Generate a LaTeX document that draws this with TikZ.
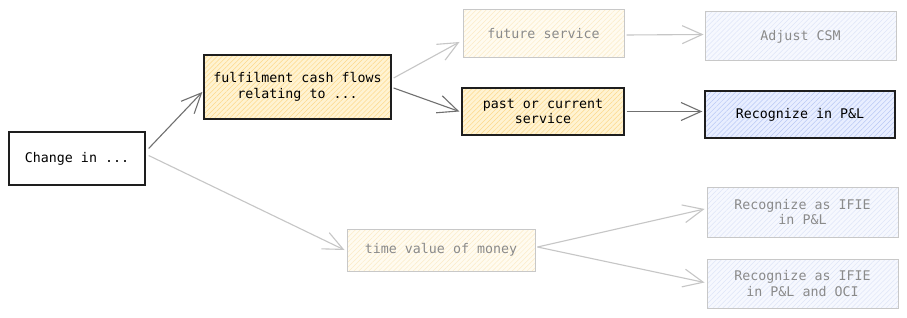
\documentclass[tikz,border=0pt]{standalone}
\usepackage{fontspec}
\newfontfamily\mono{DejaVu Sans Mono}
\usetikzlibrary{arrows.meta,patterns.meta}
\definecolor{ylwfill}{HTML}{FFF3D2}
\definecolor{ylwhatch}{HTML}{FDD98A}
\definecolor{ylwfillF}{HTML}{FFFBF0}
\definecolor{ylwhatchF}{HTML}{FCEBC6}
\definecolor{blufill}{HTML}{E8EEFF}
\definecolor{bluhatch}{HTML}{B9C9F5}
\definecolor{blufillF}{HTML}{F6F8FE}
\definecolor{bluhatchF}{HTML}{DEE5F8}
\definecolor{darkline}{HTML}{1E1E1E}
\definecolor{fadeline}{HTML}{C8C8C8}
\definecolor{fadetext}{HTML}{8A8A8A}
\definecolor{arrdark}{HTML}{707070}
\definecolor{arrlight}{HTML}{C6C6C6}
\tikzset{
  basebox/.style={draw, line width=1.3pt, align=center, inner sep=0pt,
    font=\mono\fontsize{13.3}{15.5}\selectfont},
  plainbox/.style={basebox, draw=darkline, fill=white},
  hatched/.style 2 args={preaction={draw=none, fill=#1},
    preaction={draw=none, pattern={Lines[angle=45,distance=3.5pt,line width=0.5pt]}, pattern color=#2}},
  ylwbox/.style={basebox, draw=darkline, hatched={ylwfill}{ylwhatch}},
  ylwboxF/.style={basebox, draw=fadeline, line width=1pt, text=fadetext, hatched={ylwfillF}{ylwhatchF}},
  blubox/.style={basebox, draw=darkline, hatched={blufill}{bluhatch}},
  bluboxF/.style={basebox, draw=fadeline, line width=1pt, text=fadetext, hatched={blufillF}{bluhatchF}},
  arrD/.style={draw=arrdark, line width=1.1pt, -{Straight Barb[length=20pt,width=18pt,line width=1.1pt]}},
  arrL/.style={draw=arrlight, line width=1.1pt, -{Straight Barb[length=20pt,width=18pt,line width=1.1pt]}},
}
\begin{document}
\begin{tikzpicture}[x=1pt,y=-1pt]
\useasboundingbox[fill=white] (0,0) rectangle (907,318);
\node[plainbox, minimum width=136pt, minimum height=53pt] (chg) at (77,158.5) {Change in ...};
\node[ylwbox, minimum width=187pt, minimum height=64pt] (ful) at (297.5,87) {fulfilment cash flows\\relating to ...};
\node[ylwboxF, minimum width=161pt, minimum height=48pt] (fut) at (543.5,34) {future service};
\node[ylwbox, minimum width=162pt, minimum height=47pt] (past) at (543,111.5) {past or current\\service};
\node[bluboxF, minimum width=191pt, minimum height=49pt] (adj) at (800.5,36.5) {Adjust CSM};
\node[blubox, minimum width=190pt, minimum height=47pt] (rec) at (800,114.5) {Recognize in P\&L};
\node[ylwboxF, minimum width=188pt, minimum height=42pt] (tvm) at (441,250) {time value of money};
\node[bluboxF, minimum width=191pt, minimum height=50pt] (if1) at (802.5,212) {Recognize as IFIE\\in P\&L};
\node[bluboxF, minimum width=191pt, minimum height=49pt] (if2) at (802.5,283.5) {Recognize as IFIE\\in P\&L and OCI};

\draw[arrD] ([shift={(3,-10)}]chg.east) -- ([shift={(-1,5)}]ful.west);
\draw[arrL] ([shift={(3,-3)}]chg.east) -- ([shift={(-2,0)}]tvm.west);
\draw[arrL] ([shift={(2,-9)}]ful.east) -- ([shift={(-3,8)}]fut.west);
\draw[arrD] ([shift={(2,1)}]ful.east) -- ([shift={(-2,0)}]past.west);
\draw[arrL] ([shift={(2,1)}]fut.east) -- ([shift={(-1,-2)}]adj.west);
\draw[arrD] ([shift={(2,0)}]past.east) -- ([shift={(-2,-3)}]rec.west);
\draw[arrL] ([shift={(2,-3)}]tvm.east) -- ([shift={(-2,-3)}]if1.west);
\draw[arrL] ([shift={(2,-3)}]tvm.east) -- ([shift={(-2,-1)}]if2.west);
\end{tikzpicture}
\end{document}
